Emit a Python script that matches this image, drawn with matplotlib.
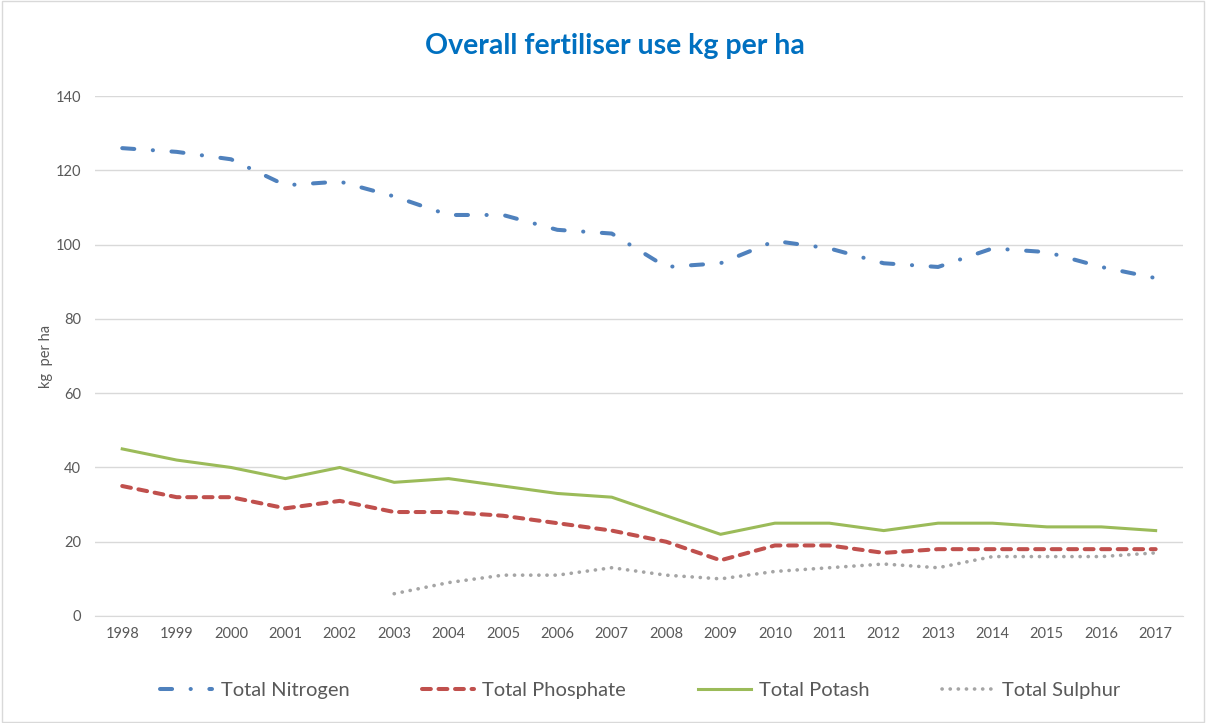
import numpy as np
import matplotlib
matplotlib.use('Agg')
import matplotlib.pyplot as plt
from matplotlib.patches import Rectangle

plt.rcParams['font.family'] = ['Lato', 'DejaVu Sans']

# data
years = [1998, 1999, 2000, 2001, 2002, 2003, 2004, 2005, 2006, 2007,
         2008, 2009, 2010, 2011, 2012, 2013, 2014, 2015, 2016, 2017]
nitrogen = [126, 125, 123, 116, 117, 113, 108, 108, 104, 103,
            94, 95, 101, 99, 95, 94, 99, 98, 94, 91]
phosphate = [35, 32, 32, 29, 31, 28, 28, 27, 25, 23,
             20, 15, 19, 19, 17, 18, 18, 18, 18, 18]
potash = [45, 42, 40, 37, 40, 36, 37, 35, 33, 32,
          27, 22, 25, 25, 23, 25, 25, 24, 24, 23]
sulphur_years = [2003, 2004, 2005, 2006, 2007, 2008, 2009, 2010,
                 2011, 2012, 2013, 2014, 2015, 2016, 2017]
sulphur = [6, 9, 11, 11, 13, 11, 10, 12, 13, 14, 13, 16, 16, 16, 17]

fig = plt.figure(figsize=(12.06, 7.23), dpi=100)
ax = fig.add_axes([0.0788, 0.148, 0.902, 0.719])

# light chart border
fig.patches.append(Rectangle((0.002, 0.002), 0.996, 0.996, transform=fig.transFigure,
                             fill=False, edgecolor='#d9d9d9', linewidth=1))

x = np.arange(len(years))
xs = np.array([years.index(y) for y in sulphur_years])

ax.plot(x, nitrogen, color='#4f81bd', linewidth=2.9, dashes=(3, 4.6, 0.05, 4.6),
        dash_capstyle='round', label='Total Nitrogen')
ax.plot(x, phosphate, color='#c0504d', linewidth=2.9, dashes=(2.2, 1.9),
        dash_capstyle='round', label='Total Phosphate')
ax.plot(x, potash, color='#9bbb59', linewidth=2.2, label='Total Potash')
ax.plot(xs, sulphur, color='#a5a5a5', linewidth=2.6, dashes=(0.05, 2.2),
        dash_capstyle='round', label='Total Sulphur')

ax.set_xlim(-0.5, len(years) - 0.5)
ax.set_ylim(0, 140)
ax.set_yticks(range(0, 141, 20))
ax.set_xticks(x)
ax.set_xticklabels([str(y) for y in years])
ax.grid(axis='y', color='#d9d9d9', linewidth=1)
ax.set_axisbelow(True)
for s in ['top', 'right', 'left']:
    ax.spines[s].set_visible(False)
ax.spines['bottom'].set_color('#d9d9d9')
ax.tick_params(axis='both', length=0, labelsize=10.5, colors='#595959', pad=8)
ax.tick_params(axis='y', pad=10)

ax.set_ylabel('kg  per ha', fontsize=10.5, color='#595959', labelpad=2)
fig.suptitle('Overall fertiliser use kg per ha', x=0.51, y=0.955,
             fontsize=20.5, fontweight='bold', color='#0070c0')

ax.legend(loc='center', bbox_to_anchor=(0.531, 0.045), bbox_transform=fig.transFigure,
          ncol=4, frameon=False, fontsize=14.5, handlelength=2.6, columnspacing=3.6,
          handletextpad=0.4, labelcolor='#595959')

fig.savefig('out.png', dpi=100)
